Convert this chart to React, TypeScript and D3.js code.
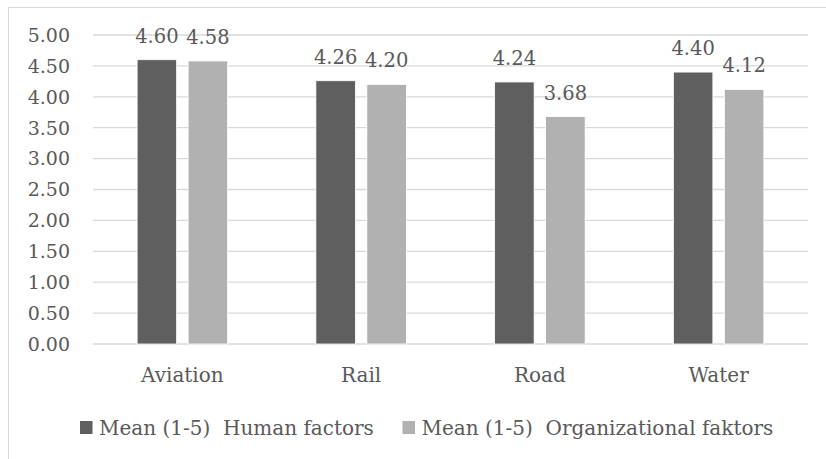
import React from "react";
import * as d3 from "d3";

const categories = ["Aviation", "Rail", "Road", "Water"];
const seriesNames = ["Mean (1-5)  Human factors", "Mean (1-5)  Organizational faktors"];
const humanFactors = [4.6, 4.26, 4.24, 4.4];
const organizationalFactors = [4.58, 4.2, 3.68, 4.12];
const yTicks = [0, 0.5, 1, 1.5, 2, 2.5, 3, 3.5, 4, 4.5, 5];

const W = 826;
const H = 459;
const FONT = "'DejaVu Serif', serif";
const TEXT = "#595959";
const COLORS = ["#5f5f5f", "#b1b1b1"];

export default function App() {
  const plot = { left: 93, right: 808, top: 35, bottom: 344 };
  const x = d3.scaleBand<string>().domain(categories).range([plot.left, plot.right]);
  const y = d3.scaleLinear().domain([0, 5]).range([plot.bottom, plot.top]);
  const barW = 39.5;
  const gap = 11.5;
  const series = [humanFactors, organizationalFactors];

  return (
    <svg
      width={W}
      height={H}
      style={{ position: "absolute", left: 0, top: 0, background: "#fff" }}
      fontFamily={FONT}
    >
      <rect x={8.5} y={7.5} width={W} height={H} fill="#fff" stroke="#d9d9d9" strokeWidth={1} />
      {yTicks.map((t) => (
        <g key={t}>
          <line x1={plot.left} x2={plot.right} y1={y(t)} y2={y(t)} stroke="#d9d9d9" strokeWidth={1.3} />
          <text x={70} y={y(t)} dy="0.36em" textAnchor="end" fontSize={19} fill={TEXT}>
            {d3.format(".2f")(t)}
          </text>
        </g>
      ))}
      {categories.map((c, i) => {
        const center = (x(c) as number) + x.bandwidth() / 2;
        return (
          <g key={c}>
            {series.map((vals, s) => {
              const bx = center - gap / 2 - barW + s * (barW + gap);
              const v = vals[i];
              return (
                <g key={s}>
                  <rect
                    x={bx}
                    y={y(v)}
                    width={barW}
                    height={y(0) - y(v)}
                    fill={COLORS[s]}
                    stroke="#ffffff"
                    strokeWidth={0.8}
                  />
                  <text
                    x={bx + barW / 2}
                    y={y(v) - 17}
                    textAnchor="middle"
                    fontSize={19.5}
                    fill={TEXT}
                  >
                    {d3.format(".2f")(v)}
                  </text>
                </g>
              );
            })}
            <text x={center} y={382} textAnchor="middle" fontSize={20} fill={TEXT}>
              {c}
            </text>
          </g>
        );
      })}
      {seriesNames.map((name, s) => {
        const mx = s === 0 ? 80 : 402.5;
        return (
          <g key={name}>
            <rect x={mx} y={421} width={12.5} height={13} fill={COLORS[s]} />
            <text x={mx + 19} y={434.5} fontSize={20} fill={TEXT} style={{ whiteSpace: "pre" }}>
              {name}
            </text>
          </g>
        );
      })}
    </svg>
  );
}
